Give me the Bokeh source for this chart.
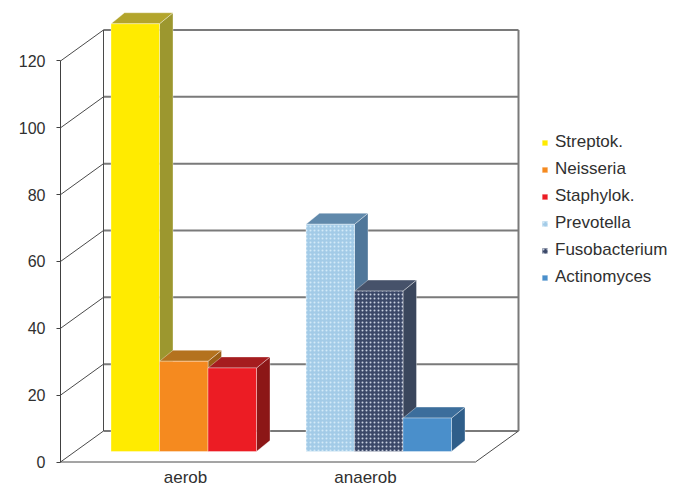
from bokeh.plotting import figure
from bokeh.models import Range1d, LinearAxis, FixedTicker, Legend, LegendItem, ColumnDataSource
from bokeh.embed import file_html
from bokeh.resources import INLINE
from bokeh.core.properties import value

# ---------------- data ----------------
categories = ["aerob", "anaerob"]
series = ["Streptok.", "Neisseria", "Staphylok.", "Prevotella", "Fusobacterium", "Actinomyces"]
series_category = ["aerob", "aerob", "aerob", "anaerob", "anaerob", "anaerob"]
values = [128, 27, 25, 68, 48, 10]
y_ticks = [0, 20, 40, 60, 80, 100, 120]

# ---------------- styles ----------------
front_colors = ["#FFEB00", "#F58A1F", "#EC1C24", "#A3CBE7", "#3B4868", "#4A8FCB"]
top_colors = ["#B3A52C", "#B4721E", "#A51D1F", "#6089AB", "#46526A", "#3C6E9C"]
side_colors = ["#9C972F", "#9A5E16", "#8C1717", "#50779A", "#3A465C", "#2F5E8A"]
front_hatch = [" ", " ", " ", "dot", "dot", " "]
hatch_colors = ["#ffffff", "#ffffff", "#ffffff", "#D3EAF8", "#C8D0E0", "#ffffff"]
FONT = "Liberation Sans"
TEXT_COLOR = "#303030"

# ---------------- layout ----------------
W, H = 685, 486
LEFT = 60
X_RANGE = (0, W - LEFT)
Y_RANGE = (-7.33, 138.1)
UPP = (Y_RANGE[1] - Y_RANGE[0]) / H      # value units per pixel
FLOOR_W = 415
WALL_DX, WALL_DY = 43, 31 * UPP
BAR_DX, BAR_DY = 14.5, 10.5 * UPP        # bar plane offset from front
DEPTH_DX, DEPTH_DY = 13.5, 11 * UPP      # bar depth
BAR_W = 48.5
GROUP_GAP = 49.5
BAR_MARGIN = 36
CAT_LABEL_X = [125, 305]
CAT_LABEL_Y = -4.5

p = figure(width=W, height=H, output_backend="svg", toolbar_location=None,
           x_range=Range1d(*X_RANGE), y_range=Range1d(*Y_RANGE),
           x_axis_type=None, y_axis_type=None,
           min_border_left=LEFT, min_border_right=0, min_border_top=0, min_border_bottom=0)
p.outline_line_color = None
p.background_fill_color = "white"
p.border_fill_color = "white"

ymax = y_ticks[-1]

# back wall gridlines
p.multi_line(xs=[[WALL_DX, FLOOR_W + WALL_DX] for v in y_ticks],
             ys=[[v + WALL_DY, v + WALL_DY] for v in y_ticks],
             line_color="#7A7A7A", line_width=2)
# left wall diagonals
p.multi_line(xs=[[0, WALL_DX] for v in y_ticks],
             ys=[[v, v + WALL_DY] for v in y_ticks],
             line_color="#4A4A4A", line_width=1)
# back wall left edge, floor edges
p.multi_line(xs=[[WALL_DX, WALL_DX], [0, FLOOR_W], [FLOOR_W, FLOOR_W + WALL_DX]],
             ys=[[WALL_DY, ymax + WALL_DY], [0, 0], [0, WALL_DY]],
             line_color="#4A4A4A", line_width=1)
# right wall edge
p.multi_line(xs=[[FLOOR_W + WALL_DX, FLOOR_W + WALL_DX]],
             ys=[[WALL_DY, ymax + WALL_DY]],
             line_color="#7A7A7A", line_width=2)

# bars (left to right, each with side, top and front face)
items = []
group_w = 3 * BAR_W + GROUP_GAP
for i, (name, cat, v) in enumerate(zip(series, series_category, values)):
    c = categories.index(cat)
    k = [s for s, sc in zip(series, series_category) if sc == cat].index(name)
    x0 = BAR_DX + BAR_MARGIN + c * group_w + k * BAR_W
    x1 = x0 + BAR_W
    b = BAR_DY
    t = BAR_DY + v
    xs = [[x1, x1 + DEPTH_DX, x1 + DEPTH_DX, x1],
          [x0, x1, x1 + DEPTH_DX, x0 + DEPTH_DX],
          [x0, x1, x1, x0]]
    ys = [[b, b + DEPTH_DY, t + DEPTH_DY, t],
          [t, t, t + DEPTH_DY, t + DEPTH_DY],
          [b, b, t, t]]
    src = ColumnDataSource(dict(xs=xs, ys=ys,
                                fill=[side_colors[i], top_colors[i], front_colors[i]],
                                hatch=[" ", " ", front_hatch[i]],
                                hcol=[hatch_colors[i]] * 3))
    r = p.patches("xs", "ys", source=src, fill_color="fill", line_color="white",
                  line_alpha=0.35, line_width=1,
                  hatch_pattern="hatch", hatch_color="hcol", hatch_scale=4, hatch_weight=1.5)
    items.append(LegendItem(label=name, renderers=[r], index=2))

# category labels
p.text(x=CAT_LABEL_X, y=[CAT_LABEL_Y] * len(categories), text=categories,
       text_font=value(FONT), text_font_size="17px", text_color=TEXT_COLOR,
       text_align="center", text_baseline="middle")

# y axis
yaxis = LinearAxis(ticker=FixedTicker(ticks=y_ticks), bounds=(0, ymax))
yaxis.axis_line_color = "#404040"
yaxis.major_tick_line_color = "#404040"
yaxis.major_tick_out = 4
yaxis.major_tick_in = 0
yaxis.minor_tick_line_color = None
yaxis.major_label_standoff = 11
yaxis.major_label_text_font = FONT
yaxis.major_label_text_font_size = "16px"
yaxis.major_label_text_color = TEXT_COLOR
p.add_layout(yaxis, "left")

legend = Legend(items=items, location=(481, 199), orientation="vertical",
                glyph_width=7, glyph_height=7, label_height=20, spacing=7,
                label_standoff=7, padding=0, margin=0,
                border_line_color=None, background_fill_alpha=0,
                label_text_font=FONT, label_text_font_size="17px",
                label_text_color=TEXT_COLOR)
p.add_layout(legend)

open("out.html", "w").write(file_html(p, INLINE))
